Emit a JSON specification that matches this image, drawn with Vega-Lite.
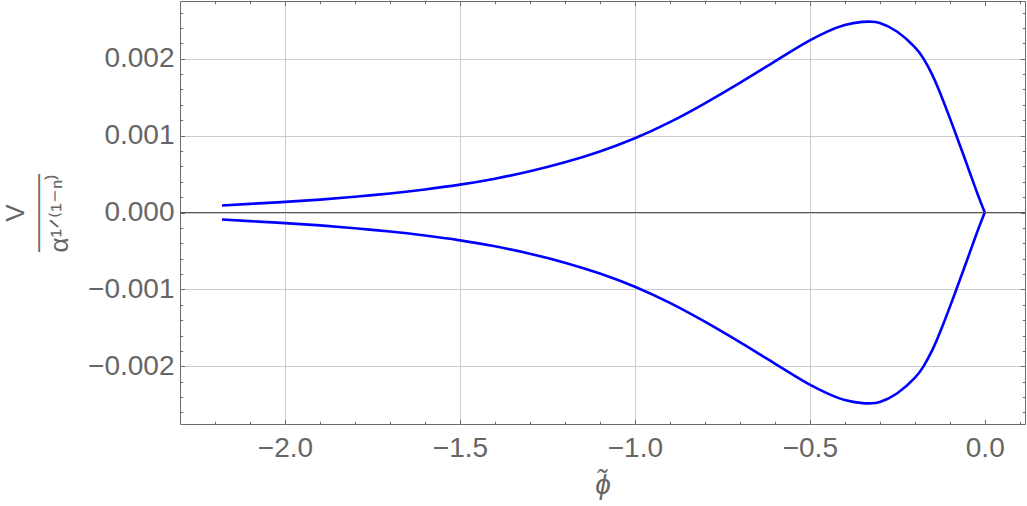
{
  "$schema": "https://vega.github.io/schema/vega-lite/v6.json",
  "width": 845,
  "height": 423,
  "autosize": {"type": "none"},
  "padding": {"left": 180, "top": 1, "right": 2, "bottom": 82},
  "background": "white",
  "config": {
    "view": {"stroke": "#6b6b6b", "strokeWidth": 1},
    "axis": {
      "labelFont": "Liberation Sans",
      "titleFont": "Liberation Sans",
      "labelColor": "#666666",
      "titleColor": "#666666",
      "tickColor": "#6b6b6b",
      "domain": false,
      "gridColor": "#cccccc",
      "gridWidth": 1
    }
  },
  "data": {
    "values": [
      {"phi": -2.18, "upper": 0.000091, "lower": -0.000091},
      {"phi": -2.1, "upper": 0.000112, "lower": -0.000112},
      {"phi": -2.0, "upper": 0.000138, "lower": -0.000138},
      {"phi": -1.9, "upper": 0.000168, "lower": -0.000168},
      {"phi": -1.8, "upper": 0.000205, "lower": -0.000205},
      {"phi": -1.7, "upper": 0.000248, "lower": -0.000248},
      {"phi": -1.6, "upper": 0.0003, "lower": -0.0003},
      {"phi": -1.5, "upper": 0.000362, "lower": -0.000362},
      {"phi": -1.4, "upper": 0.00044, "lower": -0.00044},
      {"phi": -1.3, "upper": 0.000536, "lower": -0.000536},
      {"phi": -1.2, "upper": 0.000652, "lower": -0.000652},
      {"phi": -1.1, "upper": 0.000793, "lower": -0.000793},
      {"phi": -1.0, "upper": 0.000965, "lower": -0.000965},
      {"phi": -0.9, "upper": 0.001175, "lower": -0.001175},
      {"phi": -0.8, "upper": 0.00142, "lower": -0.00142},
      {"phi": -0.7, "upper": 0.001686, "lower": -0.001686},
      {"phi": -0.65, "upper": 0.001824, "lower": -0.001824},
      {"phi": -0.6, "upper": 0.001964, "lower": -0.001964},
      {"phi": -0.55, "upper": 0.002104, "lower": -0.002104},
      {"phi": -0.5, "upper": 0.002238, "lower": -0.002238},
      {"phi": -0.45, "upper": 0.002352, "lower": -0.002352},
      {"phi": -0.4, "upper": 0.002438, "lower": -0.002438},
      {"phi": -0.35, "upper": 0.002478, "lower": -0.002478},
      {"phi": -0.325, "upper": 0.002481, "lower": -0.002481},
      {"phi": -0.3, "upper": 0.002464, "lower": -0.002464},
      {"phi": -0.25, "upper": 0.00235, "lower": -0.00235},
      {"phi": -0.2, "upper": 0.00215, "lower": -0.00215},
      {"phi": -0.175, "upper": 0.002, "lower": -0.002},
      {"phi": -0.15, "upper": 0.00179, "lower": -0.00179},
      {"phi": -0.125, "upper": 0.001525, "lower": -0.001525},
      {"phi": -0.1, "upper": 0.00123, "lower": -0.00123},
      {"phi": -0.08, "upper": 0.000985, "lower": -0.000985},
      {"phi": -0.06, "upper": 0.000737, "lower": -0.000737},
      {"phi": -0.04, "upper": 0.000485, "lower": -0.000485},
      {"phi": -0.02, "upper": 0.000234, "lower": -0.000234},
      {"phi": 0.0, "upper": 0.0, "lower": 0.0}
    ]
  },
  "transform": [{"fold": ["upper", "lower"], "as": ["branch", "value"]}],
  "resolve": {"axis": {"x": "independent", "y": "independent"}},
  "layer": [
    {
      "mark": {"type": "line", "color": "#0000ff", "strokeWidth": 2.6, "interpolate": "natural", "clip": true},
      "encoding": {
        "x": {
          "field": "phi", "type": "quantitative",
          "scale": {"domain": [-2.3, 0.115], "nice": false, "zero": false},
          "axis": {
            "orient": "bottom", "values": [-2, -1.5, -1, -0.5, 0], "format": ".1f",
            "ticks": false, "labelFontSize": 28, "labelPadding": 10,
            "grid": true, "gridOpacity": {"condition": {"test": "datum.value === 0", "value": 0}, "value": 1},
            "title": "ϕ̃", "titleFontSize": 28, "titleFontStyle": "italic", "titleFontWeight": "normal", "titlePadding": 9
          }
        },
        "y": {
          "field": "value", "type": "quantitative",
          "scale": {"domain": [-0.00275, 0.00275], "nice": false, "zero": false},
          "axis": {
            "orient": "left", "values": [-0.002, -0.001, 0, 0.001, 0.002], "format": ".3f",
            "ticks": false, "labelFontSize": 28, "labelPadding": 6,
            "grid": true,
            "title": ["V", "———", "α¹ᐟ⁽¹⁻ⁿ⁾"], "titleFontSize": 26, "titleFontWeight": "normal", "titleLineHeight": 22, "titlePadding": 15
          }
        },
        "detail": {"field": "branch"}
      }
    },
    {
      "mark": {"type": "point", "opacity": 0},
      "encoding": {
        "x": {"field": "phi", "type": "quantitative", "scale": {"domain": [-2.3, 0.115], "nice": false, "zero": false},
          "axis": {"orient": "bottom", "values": [-2, -1.5, -1, -0.5, 0], "labels": false, "grid": false, "tickSize": -4.5, "title": null}},
        "y": {"field": "value", "type": "quantitative", "scale": {"domain": [-0.00275, 0.00275], "nice": false, "zero": false},
          "axis": {"orient": "left", "values": [-0.002, -0.001, 0, 0.001, 0.002], "labels": false, "grid": false, "tickSize": -4.5, "title": null}}
      }
    },
    {
      "mark": {"type": "point", "opacity": 0},
      "encoding": {
        "x": {"field": "phi", "type": "quantitative", "scale": {"domain": [-2.3, 0.115], "nice": false, "zero": false},
          "axis": {"orient": "bottom", "values": [-2.2, -2.1, -1.9, -1.8, -1.7, -1.6, -1.4, -1.3, -1.2, -1.1, -0.9, -0.8, -0.7, -0.6, -0.4, -0.3, -0.2, -0.1, 0.1], "labels": false, "grid": false, "tickSize": -2.7, "title": null}},
        "y": {"field": "value", "type": "quantitative", "scale": {"domain": [-0.00275, 0.00275], "nice": false, "zero": false},
          "axis": {"orient": "left", "values": [-0.0026, -0.0024, -0.0022, -0.0018, -0.0016, -0.0014, -0.0012, -0.0008, -0.0006, -0.0004, -0.0002, 0.0002, 0.0004, 0.0006, 0.0008, 0.0012, 0.0014, 0.0016, 0.0018, 0.0022, 0.0024, 0.0026], "labels": false, "grid": false, "tickSize": -2.7, "title": null}}
      }
    },
    {
      "mark": {"type": "point", "opacity": 0},
      "encoding": {
        "x": {"field": "phi", "type": "quantitative", "scale": {"domain": [-2.3, 0.115], "nice": false, "zero": false},
          "axis": {"orient": "top", "values": [-2, -1.5, -1, -0.5, 0], "labels": false, "grid": false, "tickSize": -4.5, "title": null}},
        "y": {"field": "value", "type": "quantitative", "scale": {"domain": [-0.00275, 0.00275], "nice": false, "zero": false},
          "axis": {"orient": "right", "values": [-0.002, -0.001, 0, 0.001, 0.002], "labels": false, "grid": false, "tickSize": -4.5, "title": null}}
      }
    },
    {
      "mark": {"type": "point", "opacity": 0},
      "encoding": {
        "x": {"field": "phi", "type": "quantitative", "scale": {"domain": [-2.3, 0.115], "nice": false, "zero": false},
          "axis": {"orient": "top", "values": [-2.2, -2.1, -1.9, -1.8, -1.7, -1.6, -1.4, -1.3, -1.2, -1.1, -0.9, -0.8, -0.7, -0.6, -0.4, -0.3, -0.2, -0.1, 0.1], "labels": false, "grid": false, "tickSize": -2.7, "title": null}},
        "y": {"field": "value", "type": "quantitative", "scale": {"domain": [-0.00275, 0.00275], "nice": false, "zero": false},
          "axis": {"orient": "right", "values": [-0.0026, -0.0024, -0.0022, -0.0018, -0.0016, -0.0014, -0.0012, -0.0008, -0.0006, -0.0004, -0.0002, 0.0002, 0.0004, 0.0006, 0.0008, 0.0012, 0.0014, 0.0016, 0.0018, 0.0022, 0.0024, 0.0026], "labels": false, "grid": false, "tickSize": -2.7, "title": null}}
      }
    },
    {
      "data": {"values": [{"zero": 0}]},
      "transform": [],
      "mark": {"type": "rule", "color": "#555555", "strokeWidth": 1},
      "encoding": {
        "y": {"field": "zero", "type": "quantitative", "scale": {"domain": [-0.00275, 0.00275], "nice": false, "zero": false}, "axis": null}
      }
    }
  ]
}
